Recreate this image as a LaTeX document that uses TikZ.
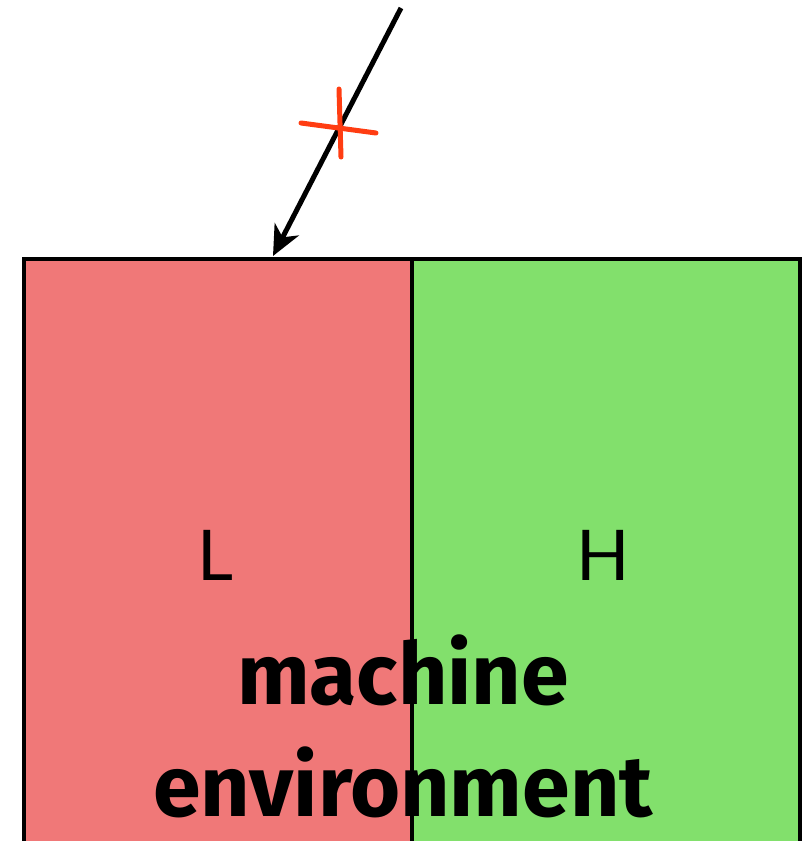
\documentclass[tikz,border=0pt]{standalone}
\usepackage{fontspec}
\setmainfont{Fira Sans}
\newfontfamily\lblfont{Lato}
\usetikzlibrary{arrows.meta}
\definecolor{lowred}{HTML}{F07878}
\definecolor{highgreen}{HTML}{82E06C}
\definecolor{crossred}{HTML}{FF3D12}
\tikzset{
  half/.style={draw=black, line width=3.5pt, minimum width=388pt, minimum height=590pt, inner sep=0pt, anchor=north west},
  lbl/.style={font=\lblfont\fontsize{70}{70}\selectfont},
  bigtxt/.style={font=\bfseries\fontsize{86}{86}\selectfont, inner sep=0pt},
  flow/.style={line width=5pt, -{Stealth[length=30pt,width=27pt,inset=9pt]}},
  xmark/.style={draw=crossred, line width=5pt, line cap=round}
}
\begin{document}
\begin{tikzpicture}[x=1pt,y=-1pt]
\useasboundingbox (0,0) rectangle (806,841);
\clip (0,0) rectangle (806,841);
\node[half, fill=lowred] (lo) at (22,257) {};
\node[half, fill=highgreen] (hi) at (410,257) {};
\node[lbl] (L) at (215,555) {L};
\node[lbl] (H) at (603,555) {H};
\node[bigtxt] (m) at (403,670) {machine};
\node[bigtxt] (e) at (403,782) {environment};
\coordinate (src) at (401,8);
\coordinate (tip) at (273,256);
\draw[flow] (src) -- (tip);
\coordinate (c1) at (301,123);
\coordinate (c2) at (376,133);
\coordinate (c3) at (339,89);
\coordinate (c4) at (341,157);
\draw[xmark] (c1) -- (c2);
\draw[xmark] (c3) -- (c4);
\end{tikzpicture}
\end{document}
